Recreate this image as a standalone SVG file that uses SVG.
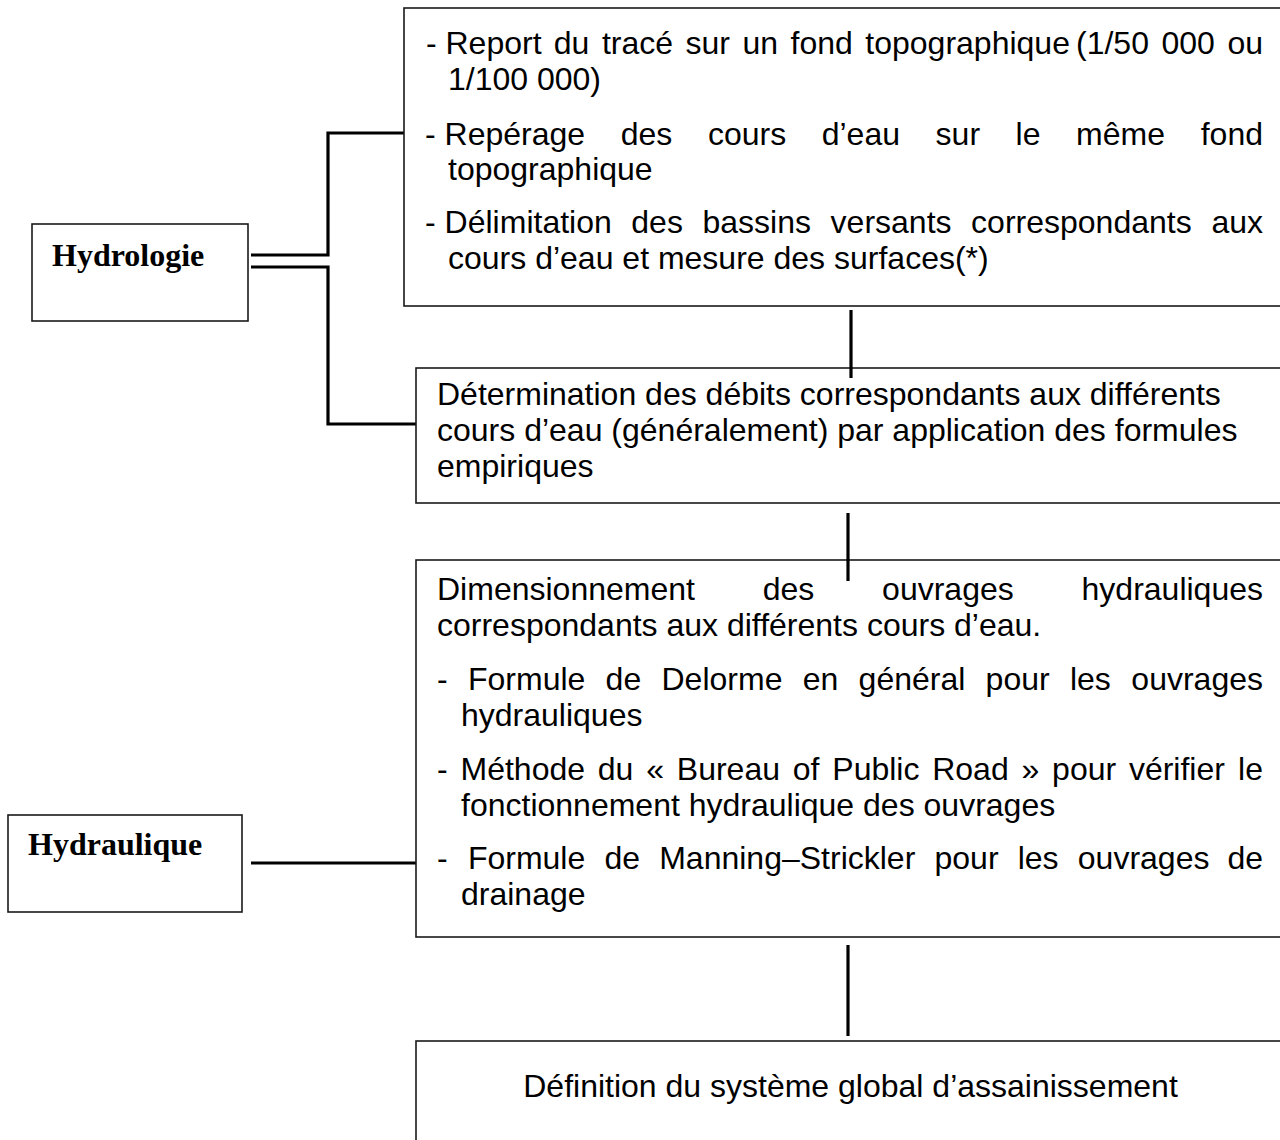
<svg xmlns="http://www.w3.org/2000/svg" width="1280" height="1140" viewBox="0 0 1280 1140">
<style>
.box{fill:#fff;stroke:#1a1a1a;stroke-width:1.6}
.t{font-family:"Liberation Sans",Arial,sans-serif;font-size:32px;fill:#000}
.e{text-anchor:end}
.m{text-anchor:middle}
.lbl{font-family:"Liberation Serif","Times New Roman",serif;font-size:32px;font-weight:bold;fill:#000}
.c{fill:none;stroke:#000;stroke-width:3.2}
</style>
<rect width="1280" height="1140" fill="#fff"/>
<g id="connectors">
<polyline class="c" points="251,255 328,255 328,133 404,133"/>
<polyline class="c" points="251,267 328,267 328,424 416,424"/>
<line class="c" x1="251" y1="863" x2="416" y2="863"/>
</g>
<g id="n-hydrologie">
<rect class="box" x="32" y="224" width="216" height="97"/>
<text class="lbl" x="52" y="266">Hydrologie</text>
</g>
<g id="n-hydraulique">
<rect class="box" x="8" y="815" width="234" height="97"/>
<text class="lbl" x="28" y="855">Hydraulique</text>
</g>
<g id="n-report">
<rect class="box" x="404" y="8" width="900" height="298"/>
<text class="t" y="54"><tspan x="426">-</tspan><tspan x="445.5">Report</tspan><tspan x="553.8">du</tspan><tspan x="601.9">tracé</tspan><tspan x="685.5">sur</tspan><tspan x="742.4">un</tspan><tspan x="790.5">fond</tspan><tspan x="865.3">topographique</tspan><tspan x="1076">(1/50</tspan><tspan x="1161.5">000</tspan></text>
<text class="t e" x="1263" y="54">ou</text>
<text class="t" x="448" y="90">1/100 000)</text>
<text class="t" y="145"><tspan x="425">-</tspan><tspan x="444.6">Repérage</tspan><tspan x="620.7">des</tspan><tspan x="707.9">cours</tspan><tspan x="821.7">d’eau</tspan><tspan x="935.6">sur</tspan><tspan x="1015.6">le</tspan><tspan x="1076.1">même</tspan></text>
<text class="t e" x="1263" y="145">fond</text>
<text class="t" x="448" y="180">topographique</text>
<text class="t" y="233"><tspan x="425">-</tspan><tspan x="444.6">Délimitation</tspan><tspan x="631.3">des</tspan><tspan x="702.5">bassins</tspan><tspan x="830.6">versants</tspan><tspan x="971.1">correspondants</tspan></text>
<text class="t e" x="1263" y="233">aux</text>
<text class="t" x="448" y="269">cours d’eau et mesure des surfaces(*)</text>
</g>
<g id="n-debits">
<rect class="box" x="416" y="368" width="900" height="135"/>
<text class="t" x="437" y="405">Détermination des débits correspondants aux différents</text>
<text class="t" x="437" y="441">cours d’eau (généralement) par application des formules</text>
<text class="t" x="437" y="477">empiriques</text>
</g>
<g id="n-dimensionnement">
<rect class="box" x="416" y="560" width="900" height="377"/>
<text class="t" y="600"><tspan x="437">Dimensionnement</tspan><tspan x="762.7">des</tspan><tspan x="882.1">ouvrages</tspan></text>
<text class="t e" x="1263" y="600">hydrauliques</text>
<text class="t" x="437" y="636">correspondants aux différents cours d’eau.</text>
<text class="t" y="690"><tspan x="437">-</tspan><tspan x="468">Formule</tspan><tspan x="605.6">de</tspan><tspan x="661.5">Delorme</tspan><tspan x="802.7">en</tspan><tspan x="858.6">général</tspan><tspan x="985.6">pour</tspan><tspan x="1069.9">les</tspan></text>
<text class="t e" x="1263" y="690">ouvrages</text>
<text class="t" x="461" y="726">hydrauliques</text>
<text class="t" y="780"><tspan x="437">-</tspan><tspan x="460.5">Méthode</tspan><tspan x="597.8">du</tspan><tspan x="646.2">«</tspan><tspan x="676.8">Bureau</tspan><tspan x="792.8">of</tspan><tspan x="832.3">Public</tspan><tspan x="932.2">Road</tspan><tspan x="1021.5">»</tspan><tspan x="1052.1">pour</tspan><tspan x="1128.9">vérifier</tspan></text>
<text class="t e" x="1263" y="780">le</text>
<text class="t" x="461" y="816">fonctionnement hydraulique des ouvrages</text>
<text class="t" y="869"><tspan x="437">-</tspan><tspan x="467.9">Formule</tspan><tspan x="604.4">de</tspan><tspan x="659.2">Manning–Strickler</tspan><tspan x="934.5">pour</tspan><tspan x="1017.7">les</tspan><tspan x="1077.8">ouvrages</tspan></text>
<text class="t e" x="1263" y="869">de</text>
<text class="t" x="461" y="905">drainage</text>
</g>
<g id="connectors-v">
<line class="c" x1="851" y1="310" x2="851" y2="378"/>
<line class="c" x1="848" y1="513" x2="848" y2="581"/>
<line class="c" x1="848" y1="945" x2="848" y2="1036"/>
</g>
<g id="n-definition">
<rect class="box" x="416" y="1041" width="900" height="200"/>
<text class="t m" x="850.5" y="1097">Définition du système global d’assainissement</text>
</g>
</svg>
